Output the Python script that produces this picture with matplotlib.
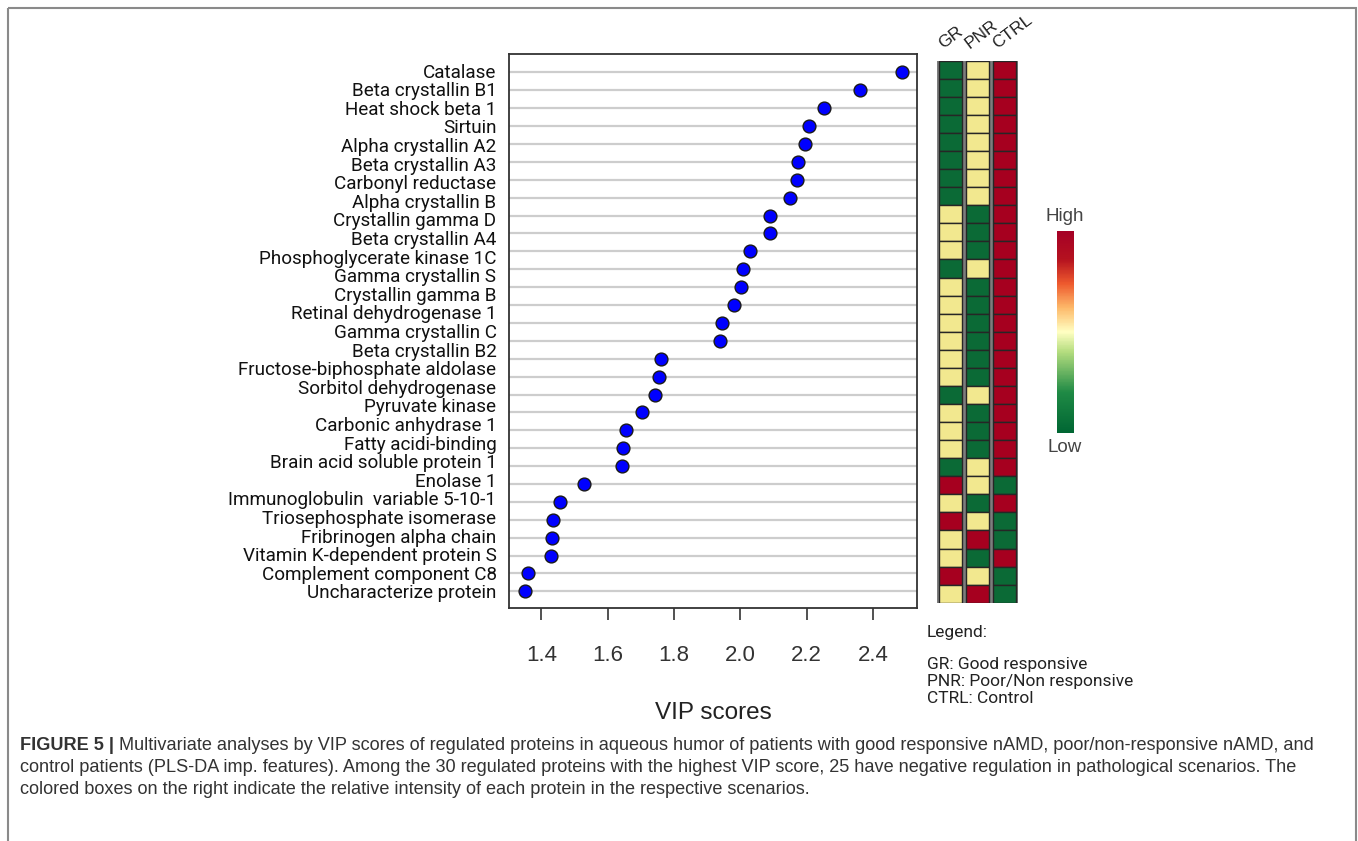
import matplotlib.pyplot as plt
import numpy as np
from matplotlib.colors import LinearSegmentedColormap
from matplotlib.cm import ScalarMappable
from matplotlib.patches import Rectangle

plt.rcParams['font.family'] = ['Liberation Sans', 'DejaVu Sans']

# protein labels (29 labels as printed on the figure)
proteins = ["Catalase", "Beta crystallin B1", "Heat shock beta 1", "Sirtuin",
            "Alpha crystallin A2", "Beta crystallin A3", "Carbonyl reductase",
            "Alpha crystallin B", "Crystallin gamma D", "Beta crystallin A4",
            "Phosphoglycerate kinase 1C", "Gamma crystallin S", "Crystallin gamma B",
            "Retinal dehydrogenase 1", "Gamma crystallin C", "Beta crystallin B2",
            "Fructose-biphosphate aldolase", "Sorbitol dehydrogenase", "Pyruvate kinase",
            "Carbonic anhydrase 1", "Fatty acidi-binding", "Brain acid soluble protein 1",
            "Enolase 1", "Immunoglobulin  variable 5-10-1", "Triosephosphate isomerase",
            "Fribrinogen alpha chain", "Vitamin K-dependent protein S",
            "Complement component C8", "Uncharacterize protein"]

# VIP score of each of the 30 points, top to bottom
vip_scores = [2.489, 2.362, 2.252, 2.208, 2.195, 2.175, 2.171, 2.151, 2.088, 2.088,
              2.030, 2.007, 2.001, 1.980, 1.944, 1.939, 1.760, 1.754, 1.743, 1.702,
              1.654, 1.646, 1.642, 1.527, 1.457, 1.434, 1.433, 1.430, 1.358, 1.349]

xticks = [1.4, 1.6, 1.8, 2.0, 2.2, 2.4]
xtick_labels = ["1.4", "1.6", "1.8", "2.0", "2.2", "2.4"]

# relative intensity per group: 0 = low, 1 = middle, 2 = high
groups = ["GR", "PNR", "CTRL"]
gr = [0, 0, 0, 0, 0, 0, 0, 0, 1, 1, 1, 0, 1, 1, 1, 1, 1, 1, 0, 1, 1, 1, 0, 2, 1, 2, 1, 1, 2, 1]
pnr = [1, 1, 1, 1, 1, 1, 1, 1, 0, 0, 0, 1, 0, 0, 0, 0, 0, 0, 1, 0, 0, 0, 1, 1, 0, 1, 2, 0, 1, 2]
ctrl = [2, 2, 2, 2, 2, 2, 2, 2, 2, 2, 2, 2, 2, 2, 2, 2, 2, 2, 2, 2, 2, 2, 2, 0, 2, 0, 0, 2, 0, 0]
level_colors = ["#0b6a36", "#f2e88f", "#a6001f"]

legend_lines = ["GR: Good responsive", "PNR: Poor/Non responsive", "CTRL: Control"]

caption_head = "FIGURE 5 |"
caption_lines = [
    "Multivariate analyses by VIP scores of regulated proteins in aqueous humor of patients with good responsive nAMD, poor/non-responsive nAMD, and",
    "control patients (PLS-DA imp. features). Among the 30 regulated proteins with the highest VIP score, 25 have negative regulation in pathological scenarios. The",
    "colored boxes on the right indicate the relative intensity of each protein in the respective scenarios.",
]

W, H = 1358, 841
fig = plt.figure(figsize=(W / 100, H / 100), dpi=100)


def px_axes(x0, y0, x1, y1, **kw):
    # axes placed with pixel coordinates measured from the top-left corner
    return fig.add_axes([x0 / W, 1 - y1 / H, (x1 - x0) / W, (y1 - y0) / H], **kw)


# background layer for frame, legend and caption
bg = px_axes(0, 0, W, H, zorder=-1)
bg.set_xlim(0, W)
bg.set_ylim(H, 0)
bg.axis("off")
bg.add_patch(Rectangle((8, 8), 1348, 860, fill=False, edgecolor="#8a8a8a", lw=1.5))

# dot plot of VIP scores
ax = px_axes(509, 54, 917, 608)
rows = np.arange(len(vip_scores))
ax.hlines(rows, 0, 1, transform=ax.get_yaxis_transform(), color="#cdcdcd", lw=1.6, zorder=1)
ax.scatter(vip_scores, rows, s=85, c="#0000ff", edgecolors="#1a1a1a", linewidths=1, zorder=3)
ax.set_xlim(1.302, 2.533)
ax.set_ylim(len(vip_scores) - 1 + 0.93, -1.03)
ax.set_xticks(xticks)
ax.set_xticklabels(xtick_labels)
ax.set_yticks(np.linspace(-0.1, 29, len(proteins)))
ax.set_yticklabels(proteins, fontfamily="Roboto", fontsize=13.6, color="#111111")
ax.tick_params(axis="y", length=0, pad=9)
ax.tick_params(axis="x", direction="out", length=8.6, width=1.2, pad=18,
               labelsize=16, labelcolor="#333333", color="#333333")
for s in ax.spines.values():
    s.set_color("#333333")
    s.set_linewidth(1.3)
ax.set_xlabel("VIP scores", fontsize=17.5, color="#222222")
ax.xaxis.label.set_va("center")
ax.xaxis.set_label_coords(0.5, -0.1895)

# heatmap of relative intensities
hax = px_axes(937, 60.7, 1018, 602.7)
hax.set_xlim(0, 3)
hax.set_ylim(len(gr), 0)
hax.axis("off")
hrows = np.arange(len(gr)) + 0.5
for j, levels in enumerate([gr, pnr, ctrl]):
    hax.bar(j + 0.5, len(levels), bottom=0, width=0.92, color="none",
            edgecolor="#7a7a7a", lw=1.4)
    hax.barh(hrows, 0.84, left=j + 0.08, height=1,
             color=[level_colors[v] for v in levels], edgecolor="#262626", lw=1)
    hax.text(j + 0.28, -0.5, groups[j], rotation=37, rotation_mode="anchor",
             ha="left", va="bottom", fontsize=12.5, color="#222222")

# colour scale
cmap = LinearSegmentedColormap.from_list("lowhigh", [
    (0.0, "#006633"), (0.2, "#1f8a45"), (0.4, "#b3dc7e"), (0.5, "#ffffc2"),
    (0.62, "#fdb96a"), (0.74, "#ee5a2e"), (0.86, "#b5121f"), (1.0, "#a50026")])
cax = px_axes(1057, 231, 1074, 433)
cb = fig.colorbar(ScalarMappable(cmap=cmap), cax=cax, ticks=[])
cb.outline.set_visible(False)
bg.text(1065, 216, "High", ha="center", va="center", fontsize=13.5, color="#444444")
bg.text(1065, 447, "Low", ha="center", va="center", fontsize=13.5, color="#444444")

# legend text
bg.text(927, 632, "Legend:", va="center", fontsize=12.5, fontfamily="Roboto", color="#222222")
for k, line in enumerate(legend_lines):
    bg.text(927, 665 + 16.7 * k, line, va="center", fontsize=12.5,
            fontfamily="Roboto", color="#222222")

# caption
head = bg.text(20, 746, caption_head, va="center", fontsize=13.05,
               fontweight="bold", color="#333333")
bg.annotate(caption_lines[0], xy=(1, 0.5), xycoords=head, xytext=(3.5, 0),
            textcoords="offset points", va="center", fontsize=13.05, color="#333333")
bg.text(20, 768, caption_lines[1], va="center", fontsize=13.05, color="#333333")
bg.text(20, 790, caption_lines[2], va="center", fontsize=13.05, color="#333333")

fig.savefig("out.png", dpi=100)
